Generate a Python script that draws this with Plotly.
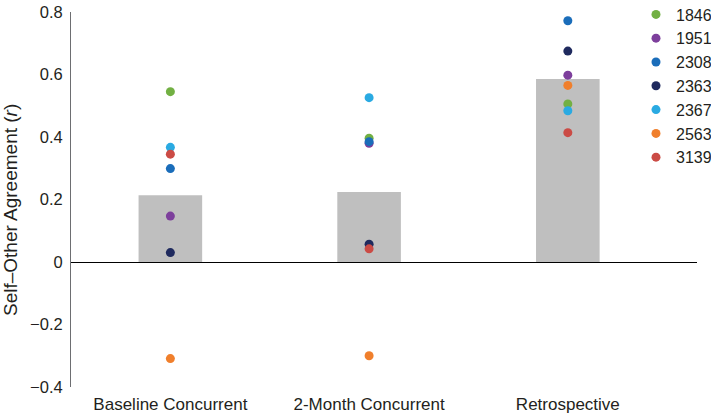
import plotly.graph_objects as go

categories = ["Baseline Concurrent", "2-Month Concurrent", "Retrospective"]
bar_means = [0.214, 0.224, 0.586]

participants = ["1846", "1951", "2308", "2363", "2367", "2563", "3139"]
colors = ["#72b043", "#7d3f9c", "#1a6dba", "#1f2a5e", "#2aaae2", "#f07f2c", "#cb4b45"]
values = {
    "1846": [0.545, 0.396, 0.506],
    "1951": [0.147, 0.380, 0.598],
    "2308": [0.299, 0.385, 0.772],
    "2363": [0.030, 0.057, 0.675],
    "2367": [0.367, 0.526, 0.484],
    "2563": [-0.309, -0.300, 0.565],
    "3139": [0.345, 0.042, 0.414],
}

FONT = "Liberation Sans Narrow, Arial Narrow, Liberation Sans, Arial, sans-serif"

fig = go.Figure()
fig.add_trace(go.Bar(x=categories, y=bar_means, width=0.32,
                     marker=dict(color="#bfbfbf", line=dict(width=0)),
                     showlegend=False, hoverinfo="skip"))
for p, c in zip(participants, colors):
    fig.add_trace(go.Scatter(x=categories, y=values[p], mode="markers", name=p,
                             marker=dict(color=c, size=9, line=dict(width=0))))

fig.update_layout(
    width=711, height=415,
    margin=dict(l=71, r=14, t=12, b=28, autoexpand=False),
    paper_bgcolor="white", plot_bgcolor="white",
    font=dict(family=FONT, size=16, color="#231f20"),
    legend=dict(x=(636 - 71) / 626, y=1.0387, xanchor="left", yanchor="top",
                font=dict(size=16), bgcolor="rgba(0,0,0,0)",
                tracegroupgap=0, itemwidth=30),
    xaxis=dict(range=[-0.5, 2.65], showgrid=False, zeroline=False, showline=False,
               ticks="outside", ticklen=2, tickcolor="rgba(0,0,0,0)",
               tickfont=dict(size=17),
               automargin=False, fixedrange=True),
    yaxis=dict(range=[-0.4, 0.8], tickvals=[-0.4, -0.2, 0, 0.2, 0.4, 0.6, 0.8],
               ticktext=["\u22120.4", "\u22120.2", "0", "0.2", "0.4", "0.6", "0.8"],
               showgrid=False, zeroline=True, zerolinecolor="#000000", zerolinewidth=1.2,
               showline=True, linecolor="#6d6e71", linewidth=1,
               ticks="outside", ticklen=4, tickcolor="rgba(0,0,0,0)",
               tickfont=dict(size=16.5),
               automargin=False),
    annotations=[dict(text="Self\u2013Other Agreement (<i>r</i>)", textangle=-90,
                      xref="paper", yref="paper", x=(10 - 71) / 626, y=(387 - 210) / 375,
                      xanchor="center", yanchor="middle", showarrow=False,
                      font=dict(size=19, family=FONT))],
)

fig.write_html("out.html", config={"displayModeBar": False},
               post_script="document.body.style.margin='0';")
